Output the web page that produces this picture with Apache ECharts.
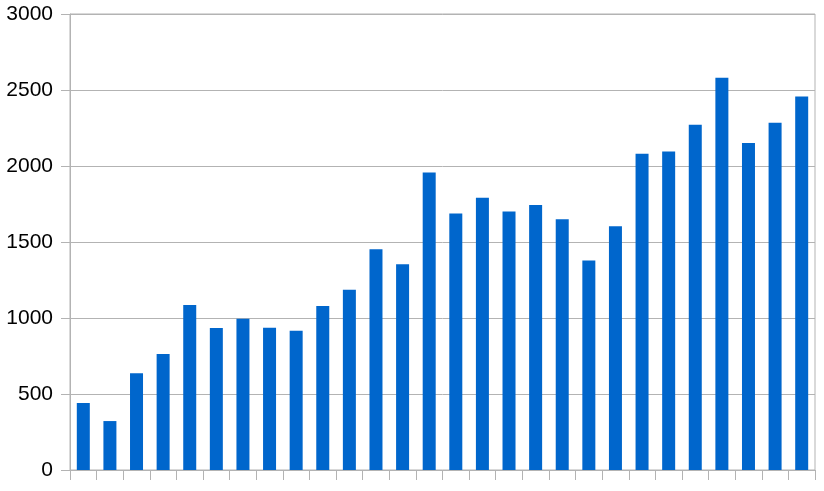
<!DOCTYPE html>
<html>
<head>
<meta charset="utf-8">
<script src="https://cdn.jsdelivr.net/npm/echarts@6/dist/echarts.min.js"></script>
<style>
html,body{margin:0;padding:0;background:#fff;}
#chart{width:824px;height:491px;}
</style>
</head>
<body>
<div id="chart"></div>
<script>
const categories = ["1","2","3","4","5","6","7","8","9","10","11","12","13","14","15","16","17","18","19","20","21","22","23","24","25","26","27","28"];
const values = [440, 322, 636, 763, 1085, 934, 995, 936, 916, 1079, 1186, 1452, 1353, 1958, 1688, 1791, 1701, 1743, 1649, 1379, 1603, 2081, 2096, 2272, 2580, 2151, 2285, 2458];
const yMin = 0, yMax = 3000, yInterval = 500;

const chart = echarts.init(document.getElementById('chart'), null, {renderer: 'canvas'});
chart.setOption({
  animation: false,
  grid: {left: 70, right: 9, top: 14, bottom: 21, show: true, borderColor: '#b3b3b3', borderWidth: 1, backgroundColor: 'transparent'},
  xAxis: {
    type: 'category',
    data: categories,
    axisLine: {show: true, lineStyle: {color: '#b3b3b3', width: 1}},
    axisTick: {show: true, length: 10, interval: 0, lineStyle: {color: '#b3b3b3'}},
    axisLabel: {show: false},
    splitLine: {show: false}
  },
  yAxis: {
    type: 'value',
    min: yMin, max: yMax, interval: yInterval,
    axisLine: {show: true, lineStyle: {color: '#b3b3b3', width: 1}},
    axisTick: {show: true, length: 9, lineStyle: {color: '#b3b3b3'}},
    axisLabel: {color: '#000', fontSize: 21, fontFamily: 'Liberation Sans, Arial, sans-serif', margin: 17, formatter: v => String(v)},
    splitLine: {show: true, lineStyle: {color: '#b3b3b3', width: 1}}
  },
  series: [{
    type: 'bar',
    data: values,
    barWidth: 13,
    itemStyle: {color: '#0066cc'}
  }]
});
</script>
</body>
</html>
